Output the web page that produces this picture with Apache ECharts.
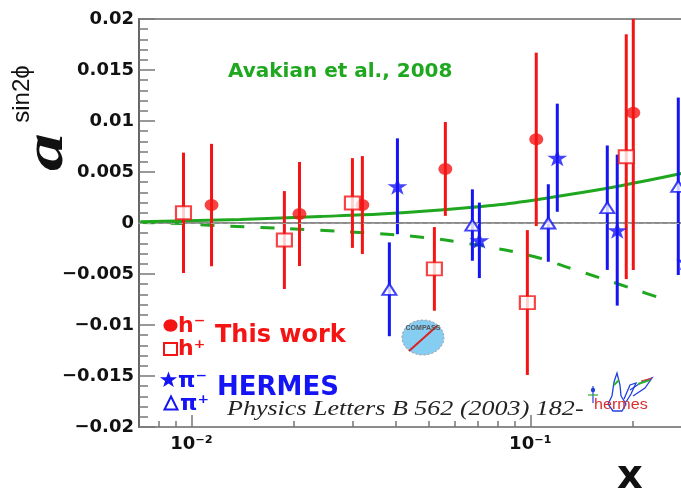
<!DOCTYPE html>
<html>
<head>
<meta charset="utf-8">
<script src="https://cdn.jsdelivr.net/npm/echarts@6/dist/echarts.min.js"></script>
<style>
  html, body { margin: 0; padding: 0; background: #ffffff; overflow: hidden; }
  /* the frame runs a little past the right edge of the window */
  #chart { width: 692px; height: 489px; }
</style>
</head>
<body>
<div id="chart"></div>
<script>
// ---- axis ranges and ticks ----
const xMin = 0.007, xMax = 0.3;
const yMin = -0.02, yMax = 0.02, yStep = 0.005;
const xMajorTicks = [0.01, 0.1];
const xMinorTicks = [0.008, 0.009, 0.02, 0.03, 0.04, 0.05, 0.06, 0.07, 0.08, 0.09, 0.2];
const xTickLabels = ['10\u207B\u00B2', '10\u207B\u00B9'];

// ---- COMPASS (this work): negative hadrons ----
const hMinusX   = [0.01146, 0.02083, 0.03194, 0.05613, 0.1041, 0.2013];
const hMinusA   = [0.00176, 0.00088, 0.00176, 0.0053, 0.0082, 0.0108];
const hMinusErr = [0.0060, 0.0051, 0.0048, 0.0046, 0.0085, 0.0154];

// ---- COMPASS (this work): positive hadrons ----
const hPlusX   = [0.00947, 0.0188, 0.02985, 0.0521, 0.098, 0.1919];
const hPlusA   = [0.0010, -0.00167, 0.00196, -0.0045, -0.0078, 0.0065];
const hPlusErr = [0.0059, 0.0048, 0.0044, 0.0041, 0.0071, 0.0120];

// ---- HERMES: negative pions ----
const piMinusX   = [0.04053, 0.07073, 0.1201, 0.1805, 0.288];
const piMinusA   = [0.0036, -0.0017, 0.0064, -0.0007, -0.0038];
const piMinusErr = [0.0047, 0.0037, 0.0053, 0.0074, 0.0085];

// ---- HERMES: positive pions ----
const piPlusX   = [0.03837, 0.06745, 0.1130, 0.1687, 0.2733];
const piPlusA   = [-0.0065, -0.0002, 0.0000, 0.0015, 0.0036];
const piPlusErr = [0.0046, 0.0035, 0.0038, 0.0061, 0.0087];

// ---- model curves (Avakian et al., 2008) ----
const modelSolidX = [0.00707, 0.01395, 0.02402, 0.0361, 0.05426, 0.08155, 0.1146, 0.1687, 0.2214, 0.2789];
const modelSolidA = [0.00013, 0.00034, 0.00064, 0.00088, 0.00127, 0.00181, 0.0025, 0.0034, 0.00417, 0.00485];
const modelDashX = [0.00707, 0.00928, 0.01177, 0.0183, 0.02847, 0.04366, 0.05613, 0.08437, 0.107, 0.1312, 0.162, 0.1986, 0.2434, 0.2588];
const modelDashA = [0.00005, -0.00005, -0.00025, -0.00052, -0.00085, -0.00127, -0.00167, -0.00265, -0.00346, -0.00444, -0.00542, -0.0064, -0.00738, -0.00765];

const RED = '#f51414', BLUE = '#1414f5', GREEN = '#1fa81f';
const STAR = 'path://M50,0 L61.8,35.1 L98.9,35.1 L69.1,56.9 L80.2,91.9 L50,70.2 L19.8,91.9 L30.9,56.9 L1.1,35.1 L38.2,35.1 Z';

const zip = (xs, ys) => xs.map((x, i) => [x, ys[i]]);
const bars = (xs, ys, es) => xs.map((x, i) => [x, ys[i] - es[i], ys[i] + es[i]]);

function errorBarItem(params, api) {
  const x = api.value(0);
  const lo = api.coord([x, api.value(1)]);
  const hi = api.coord([x, api.value(2)]);
  return {
    type: 'line',
    shape: { x1: lo[0], y1: lo[1], x2: hi[0], y2: hi[1] },
    style: { stroke: api.visual('color'), lineWidth: 3 }
  };
}

function errorSeries(xs, ys, es, color) {
  return {
    type: 'custom', xAxisIndex: 0, yAxisIndex: 0, clip: true, z: 3,
    itemStyle: { color: color },
    renderItem: errorBarItem,
    data: bars(xs, ys, es)
  };
}

function pointSeries(xs, ys, symbol, size, style) {
  return {
    type: 'scatter', xAxisIndex: 0, yAxisIndex: 0, z: 5,
    symbol: symbol, symbolSize: size,
    itemStyle: style,
    data: zip(xs, ys)
  };
}

function starPoints(cx, cy, rx, ry) {
  const pts = [];
  for (let k = 0; k < 10; k++) {
    const ang = -Math.PI / 2 + k * Math.PI / 5;
    const r = k % 2 === 0 ? 1 : 0.4;
    pts.push([cx + rx * r * Math.cos(ang), cy + ry * r * Math.sin(ang)]);
  }
  return pts;
}

const tickLine = { color: '#777', width: 1.5 };
const lg = v => Math.log10(v);

const chart = echarts.init(document.getElementById('chart'), null, { renderer: 'canvas' });

chart.setOption({
  animation: false,
  backgroundColor: '#ffffff',
  grid: {
    left: 139, right: 0, top: 19, bottom: 62,
    show: true, borderColor: '#8c8c8c', borderWidth: 2, backgroundColor: 'transparent'
  },
  xAxis: [
    {
      type: 'log', logBase: 10, min: xMin, max: xMax,
      axisLine: { show: true, lineStyle: { color: '#8c8c8c', width: 2 } },
      axisTick: { show: false }, axisLabel: { show: false }, splitLine: { show: false }
    },
    {
      type: 'value', min: lg(xMin), max: lg(xMax), position: 'bottom',
      axisLine: { show: false }, splitLine: { show: false },
      axisTick: { show: true, inside: true, length: 12, lineStyle: tickLine, customValues: xMajorTicks.map(lg) },
      axisLabel: {
        show: true, margin: 8, customValues: xMajorTicks.map(lg),
        fontFamily: 'DejaVu Sans', fontWeight: 'bold', fontSize: 18, color: '#111',
        formatter: v => xTickLabels[Math.round(v) + 2]
      }
    },
    {
      type: 'value', min: lg(xMin), max: lg(xMax), position: 'bottom',
      axisLine: { show: false }, splitLine: { show: false }, axisLabel: { show: false },
      axisTick: { show: true, inside: true, length: 6, lineStyle: tickLine, customValues: xMinorTicks.map(lg) }
    }
  ],
  yAxis: {
    type: 'value', min: yMin, max: yMax, interval: yStep,
    axisLine: { show: true, lineStyle: { color: '#666', width: 2 } },
    axisTick: { show: true, inside: true, length: 16, lineStyle: tickLine },
    minorTick: { show: true, splitNumber: 5, length: 9, lineStyle: tickLine },
    splitLine: { show: false },
    axisLabel: {
      margin: 5, fontFamily: 'DejaVu Sans', fontWeight: 'bold', fontSize: 18, color: '#111',
      formatter: v => (Math.abs(v) < 1e-12 ? '0' : String(+v.toFixed(3))).replace('-', '\u2212')
    }
  },
  series: [
    {
      type: 'line', xAxisIndex: 0, yAxisIndex: 0, z: 1, data: [],
      markLine: {
        silent: true, symbol: 'none', label: { show: false },
        lineStyle: { color: '#a0a0a0', type: [4, 4], width: 1 },
        data: [{ yAxis: 0 }]
      }
    },
    {
      type: 'line', xAxisIndex: 0, yAxisIndex: 0, z: 2, showSymbol: false, smooth: 0.3,
      lineStyle: { color: GREEN, width: 3 }, data: zip(modelSolidX, modelSolidA)
    },
    {
      type: 'line', xAxisIndex: 0, yAxisIndex: 0, z: 2, showSymbol: false, smooth: 0.3,
      lineStyle: { color: GREEN, width: 3, type: [14, 16] }, data: zip(modelDashX, modelDashA)
    },
    errorSeries(hMinusX, hMinusA, hMinusErr, RED),
    errorSeries(hPlusX, hPlusA, hPlusErr, RED),
    errorSeries(piMinusX, piMinusA, piMinusErr, BLUE),
    errorSeries(piPlusX, piPlusA, piPlusErr, BLUE),
    pointSeries(hMinusX, hMinusA, 'circle', [14, 12], { color: RED }),
    pointSeries(hPlusX, hPlusA, 'rect', [15, 13], { color: '#fff', borderColor: RED, borderWidth: 2 }),
    pointSeries(piMinusX, piMinusA, STAR, [20, 17], { color: BLUE }),
    pointSeries(piPlusX, piPlusA, 'triangle', [14, 11], { color: '#fff', borderColor: BLUE, borderWidth: 2 })
  ],
  graphic: [
    // y-axis title
    { type: 'text', x: 48, y: 152, rotation: Math.PI / 2, scaleX: 1.4,
      style: { text: 'a', font: 'italic bold 54px "Liberation Serif"', fill: '#111', align: 'center', verticalAlign: 'middle' } },
    { type: 'text', x: 22, y: 94, rotation: Math.PI / 2,
      style: { text: 'sin2\u03D5', font: '24px "Liberation Sans"', fill: '#111', align: 'center', verticalAlign: 'middle' } },
    // x-axis title
    { type: 'text', x: 630, y: 478,
      style: { text: 'x', font: 'bold 40px "DejaVu Sans"', fill: '#111', align: 'center', verticalAlign: 'middle' } },
    // model label
    { type: 'text', x: 228, y: 72,
      style: { text: 'Avakian et al., 2008', font: 'bold 20px "DejaVu Sans"', fill: GREEN, align: 'left', verticalAlign: 'middle' } },
    // legend: this work
    { type: 'ellipse', shape: { cx: 170.5, cy: 325.5, rx: 7, ry: 6.2 }, style: { fill: RED } },
    { type: 'text', x: 178, y: 326, style: { text: 'h\u207B', font: 'bold 22px "DejaVu Sans"', fill: RED, align: 'left', verticalAlign: 'middle' } },
    { type: 'rect', shape: { x: 164, y: 343, width: 13, height: 12 }, style: { fill: '#fff', stroke: RED, lineWidth: 2 } },
    { type: 'text', x: 178, y: 349, style: { text: 'h\u207A', font: 'bold 22px "DejaVu Sans"', fill: RED, align: 'left', verticalAlign: 'middle' } },
    { type: 'text', x: 215, y: 336, style: { text: 'This work', font: 'bold 24px "DejaVu Sans"', fill: RED, align: 'left', verticalAlign: 'middle' } },
    // legend: HERMES
    { type: 'polygon', shape: { points: starPoints(168.5, 380, 9, 8.5) }, style: { fill: BLUE } },
    { type: 'text', x: 178, y: 381, style: { text: '\u03C0\u207B', font: 'bold 22px "DejaVu Sans"', fill: BLUE, align: 'left', verticalAlign: 'middle' } },
    { type: 'polygon', shape: { points: [[171, 396.5], [177.5, 409.5], [164.5, 409.5]] }, style: { fill: '#fff', stroke: BLUE, lineWidth: 2 } },
    { type: 'text', x: 180, y: 404, style: { text: '\u03C0\u207A', font: 'bold 22px "DejaVu Sans"', fill: BLUE, align: 'left', verticalAlign: 'middle' } },
    { type: 'text', x: 217, y: 388, style: { text: 'HERMES', font: 'bold 26px "DejaVu Sans"', fill: BLUE, align: 'left', verticalAlign: 'middle' } },
    { type: 'text', x: 227, y: 409, scaleX: 1.24,
      style: { text: 'Physics Letters B 562 (2003) 182-', font: 'italic 21px "Liberation Serif"', fill: '#222', align: 'left', verticalAlign: 'middle' } },
    // COMPASS emblem
    { type: 'ellipse', shape: { cx: 423, cy: 337.5, rx: 21, ry: 17.5 }, style: { fill: '#86cdf2', stroke: '#b49a9a', lineWidth: 1, lineDash: [2, 2] } },
    { type: 'line', shape: { x1: 409, y1: 351, x2: 437, y2: 326 }, style: { stroke: '#e02020', lineWidth: 2 } },
    { type: 'text', x: 423, y: 328, style: { text: 'COMPASS', font: 'bold 7px "Liberation Sans"', fill: '#555', align: 'center', verticalAlign: 'middle' } },
    // HERMES emblem
    { type: 'polyline', shape: { points: [[612, 396], [608, 404], [613, 411], [622, 411], [626, 404], [621, 396]] }, style: { stroke: '#2040e0', lineWidth: 1.3, fill: null } },
    { type: 'polyline', shape: { points: [[612, 396], [614, 382], [617, 373], [620, 385], [621, 396]] }, style: { stroke: '#2040e0', lineWidth: 1.3, fill: null } },
    { type: 'polyline', shape: { points: [[624, 399], [630, 385], [636, 383], [631, 394], [626, 402]] }, style: { stroke: '#2040e0', lineWidth: 1.3, fill: null } },
    { type: 'polyline', shape: { points: [[630, 390], [642, 382], [652, 378], [645, 388], [633, 396]] }, style: { stroke: '#2040e0', lineWidth: 1.3, fill: null } },
    { type: 'line', shape: { x1: 614, y1: 385, x2: 619, y2: 380 }, style: { stroke: '#30b030', lineWidth: 2 } },
    { type: 'line', shape: { x1: 638, y1: 384, x2: 650, y2: 380 }, style: { stroke: '#30b030', lineWidth: 2 } },
    { type: 'line', shape: { x1: 641, y1: 381, x2: 652, y2: 378 }, style: { stroke: '#e03030', lineWidth: 1 } },
    { type: 'circle', shape: { cx: 593, cy: 390, r: 2.2 }, style: { fill: '#2040e0' } },
    { type: 'line', shape: { x1: 593, y1: 386, x2: 593, y2: 403 }, style: { stroke: '#2040e0', lineWidth: 1.2 } },
    { type: 'line', shape: { x1: 588, y1: 395, x2: 598, y2: 395 }, style: { stroke: '#30b030', lineWidth: 1.2 } },
    { type: 'text', x: 594, y: 405, scaleX: 1.15,
      style: { text: 'hermes', font: '14px "Liberation Sans"', fill: '#d83030', align: 'left', verticalAlign: 'middle' } }
  ]
});
</script>
</body>
</html>
